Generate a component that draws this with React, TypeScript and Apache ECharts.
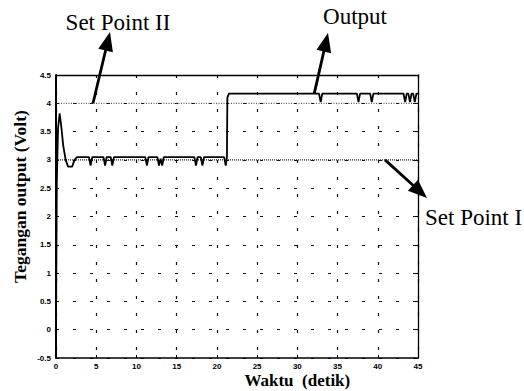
import React, { useEffect, useRef } from "react";
import * as echarts from "echarts";

const xTicks = [0, 5, 10, 15, 20, 25, 30, 35, 40, 45];
const yTicks = [-0.5, 0, 0.5, 1, 1.5, 2, 2.5, 3, 3.5, 4, 4.5];

const setPoint1: [number, number][] = [[0, 3], [45, 3]];
const setPoint2: [number, number][] = [[0, 4], [45, 4]];

const output: [number, number][] = [
  [0, 0], [0.1, 2.6], [0.25, 3.55], [0.45, 3.82], [0.65, 3.6], [0.9, 3.25], [1.2, 3.0], [1.5, 2.88], [2.0, 2.88], [2.3, 3.0], [2.6, 3.05],
  [4.1, 3.05], [4.3, 2.9], [4.5, 3.05],
  [5.9, 3.05], [6.1, 2.9], [6.3, 3.05],
  [6.8, 3.05], [7.0, 2.9], [7.2, 3.05],
  [11.1, 3.05], [11.3, 2.9], [11.5, 3.05],
  [12.6, 3.05], [12.8, 2.9], [13.0, 3.02], [13.2, 2.9], [13.4, 3.05],
  [17.2, 3.05], [17.4, 2.9], [17.6, 3.05],
  [18.0, 3.05], [18.2, 2.9], [18.4, 3.05],
  [20.9, 3.05], [21.1, 2.9], [21.25, 3.05], [21.3, 4.1], [21.5, 4.17],
  [32.7, 4.17], [32.9, 4.02], [33.1, 4.17],
  [37.4, 4.17], [37.6, 4.02], [37.8, 4.17],
  [39.05, 4.17], [39.25, 4.02], [39.45, 4.17],
  [43.2, 4.17], [43.4, 4.02], [43.6, 4.17], [43.8, 4.17], [44.0, 4.02], [44.2, 4.17],
  [44.4, 4.17], [44.6, 4.02], [44.8, 4.17], [45, 4.17],
];

const labelSetPoint2 = "Set Point II";
const labelOutput = "Output";
const labelSetPoint1 = "Set Point I";
const xTitle = "Waktu  (detik)";
const yTitle = "Tegangan output (Volt)";

function arrow(base: number[], tip: number[]) {
  const dx = tip[0] - base[0];
  const dy = tip[1] - base[1];
  const len = Math.hypot(dx, dy);
  const ux = dx / len, uy = dy / len;
  const nx = -uy, ny = ux;
  const L = 19, W = 15;
  const bx = tip[0] - ux * L, by = tip[1] - uy * L;
  return [
    { type: "line", shape: { x1: base[0], y1: base[1], x2: bx + ux * 2, y2: by + uy * 2 }, style: { stroke: "#000", lineWidth: 2.8 } },
    { type: "polygon", shape: { points: [[tip[0], tip[1]], [bx + nx * W / 2, by + ny * W / 2], [bx - nx * W / 2, by - ny * W / 2]] }, style: { fill: "#000" } },
  ];
}

export default function App() {
  const ref = useRef<HTMLDivElement>(null);
  useEffect(() => {
    const chart = echarts.init(ref.current!, undefined, { renderer: "svg" });
    const label = (v: number, list: number[]) => (list.includes(v) ? String(v) : "");
    const frameAxis = {
      show: true,
      axisLine: { show: true, onZero: false, lineStyle: { color: "#000", width: 1.3 } },
      axisTick: { show: true, inside: true, length: 3, lineStyle: { color: "#000" } },
      axisLabel: { show: false },
      splitLine: { show: false },
    };
    chart.setOption({
      animation: false,
      backgroundColor: "#fff",
      grid: { left: 56, right: 106, top: 75, bottom: 33 },
      xAxis: [
        {
          type: "value", min: 0, max: 45, interval: 5, position: "bottom",
          axisLine: { show: true, onZero: false, lineStyle: { color: "#000", width: 1.5 } },
          axisTick: { show: true, inside: true, length: 3, lineStyle: { color: "#000" } },
          axisLabel: { color: "#000", fontFamily: "Liberation Sans", fontWeight: "bold", fontSize: 8, margin: 4,
            formatter: (v: number) => label(v, xTicks) },
          splitLine: { show: true, lineStyle: { color: "#111", width: 1.2, type: [3, 14] } },
        },
        { type: "value", min: 0, max: 45, interval: 5, position: "top", ...frameAxis },
      ],
      yAxis: [
        {
          type: "value", min: -0.5, max: 4.5, interval: 0.5, position: "left",
          axisLine: { show: true, onZero: false, lineStyle: { color: "#000", width: 2 } },
          axisTick: { show: true, inside: true, length: 3, lineStyle: { color: "#000" } },
          axisLabel: { color: "#000", fontFamily: "Liberation Sans", fontWeight: "bold", fontSize: 8, margin: 5,
            formatter: (v: number) => label(v, yTicks) },
          splitLine: { show: true, lineStyle: { color: "#111", width: 1.2, type: [3, 14] } },
        },
        { type: "value", min: -0.5, max: 4.5, interval: 0.5, position: "right", ...frameAxis },
      ],
      series: [
        { type: "line", data: setPoint2, symbol: "none", lineStyle: { color: "#333", width: 1, type: [1, 1.5] }, z: 2 },
        { type: "line", data: setPoint1, symbol: "none", lineStyle: { color: "#222", width: 1.2, type: [1, 1] }, z: 2 },
        { type: "line", data: output, symbol: "none", lineStyle: { color: "#000", width: 1.8 }, z: 3 },
      ],
    });
    const p2 = chart.convertToPixel({ gridIndex: 0 }, [4.6, 4]) as number[];
    const pOut = chart.convertToPixel({ gridIndex: 0 }, [32.1, 4.17]) as number[];
    const p1 = chart.convertToPixel({ gridIndex: 0 }, [40.9, 3]) as number[];
    const pTitle = chart.convertToPixel({ gridIndex: 0 }, [30, -0.5]) as number[];
    const pMid = chart.convertToPixel({ gridIndex: 0 }, [0, 2]) as number[];
    const serif = "Liberation Serif";
    chart.setOption({
      graphic: [
        ...arrow(p2, [110, 32]),
        ...arrow(pOut, [328, 33]),
        ...arrow(p1, [427, 198]),
        { type: "text", x: 118, y: 22, style: { text: labelSetPoint2, font: `23px "${serif}"`, fill: "#000", align: "center", verticalAlign: "middle" } },
        { type: "text", x: 355, y: 16, style: { text: labelOutput, font: `23px "${serif}"`, fill: "#000", align: "center", verticalAlign: "middle" } },
        { type: "text", x: 425, y: 217, style: { text: labelSetPoint1, font: `23px "${serif}"`, fill: "#000", align: "left", verticalAlign: "middle" } },
        { type: "text", x: pTitle[0], y: pTitle[1] + 22, style: { text: xTitle, font: `bold 17px "${serif}"`, fill: "#000", align: "center", verticalAlign: "middle" } },
        { type: "text", x: 20, y: pMid[1] - 20, rotation: Math.PI / 2, style: { text: yTitle, font: `bold 17.5px "${serif}"`, fill: "#000", align: "center", verticalAlign: "middle" } },
      ],
    });
    return () => chart.dispose();
  }, []);
  return <div ref={ref} style={{ position: "fixed", left: 0, top: 0, width: 524, height: 391 }} />;
}
